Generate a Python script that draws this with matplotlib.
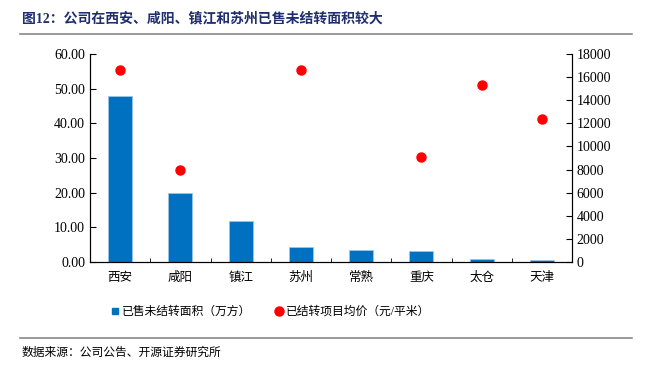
import matplotlib
matplotlib.use("Agg")
import matplotlib.pyplot as plt
from matplotlib.lines import Line2D
import numpy as np

plt.rcParams['font.family'] = ['Liberation Serif', 'Noto Sans CJK SC']

# 数据
cities = ['西安', '咸阳', '镇江', '苏州', '常熟', '重庆', '太仓', '天津']
area = [47.8, 20.0, 11.9, 4.3, 3.4, 3.1, 0.8, 0.6]          # 万方
price = [16600, 8000, None, 16580, None, 9050, 15300, 12350]  # 元/平米

fig = plt.figure(figsize=(6.5, 3.69), dpi=100)
ax = fig.add_axes([0.1385, 0.29, 0.7415, 0.5637])
ax2 = ax.twinx()

x = np.arange(len(cities))
ax.bar(x, area, width=0.4, color='#0070C0', edgecolor='#9DC3E6', linewidth=0.6,
       label='已售未结转面积（万方）', zorder=2)

px = [i for i, p in enumerate(price) if p is not None]
py = [p for p in price if p is not None]
ax2.plot(px, py, 'o', color='#FF0000', markersize=6.5, linestyle='none',
         label='已结转项目均价（元/平米）', zorder=3)

ax.set_xlim(-0.5, len(cities) - 0.5)
ax.set_ylim(0, 60)
ax.set_yticks(np.arange(0, 61, 10))
ax.set_yticklabels([f'{v:.2f}' for v in np.arange(0, 61, 10)], fontsize=10)
ax2.set_ylim(0, 18000)
ax2.set_yticks(np.arange(0, 18001, 2000))
ax2.set_yticklabels([str(v) for v in range(0, 18001, 2000)], fontsize=10)

ax.set_xticks(x)
ax.set_xticklabels(cities, fontsize=9)
ax.tick_params(axis='x', length=0, pad=7)
ax.set_xticks(np.arange(-0.5, len(cities), 1), minor=True)
ax.tick_params(axis='x', which='minor', direction='in', length=3)
ax.tick_params(axis='y', direction='in', length=4)
ax2.tick_params(axis='y', direction='in', length=4)

for a in (ax, ax2):
    a.spines['top'].set_visible(False)
    for s in ('left', 'right', 'bottom'):
        a.spines[s].set_linewidth(0.8)

h1, l1 = ax.get_legend_handles_labels()
h2, l2 = ax2.get_legend_handles_labels()
h1 = [Line2D([], [], marker='s', color='#0070C0', linestyle='none', markersize=5)]
fig.legend(h1 + h2, l1 + l2, loc='center', bbox_to_anchor=(0.415, 1 - 312 / 369),
           ncol=2, frameon=False, fontsize=8.5, handletextpad=0.1, columnspacing=1.8,
           handlelength=1)

fig.text(22 / 650, 1 - 19 / 369, '图12：公司在西安、咸阳、镇江和苏州已售未结转面积较大',
         fontsize=10, fontweight='bold', color='#1F2F6E', va='center')
fig.add_artist(Line2D([20 / 650, 632 / 650], [1 - 34 / 369] * 2, color='#888888', lw=1.2))
fig.add_artist(Line2D([20 / 650, 632 / 650], [1 - 338 / 369] * 2, color='#888888', lw=1.2))
fig.text(22 / 650, 1 - 353 / 369, '数据来源：公司公告、开源证券研究所', fontsize=8.5, va='center')

fig.savefig('out.png', dpi=100)
